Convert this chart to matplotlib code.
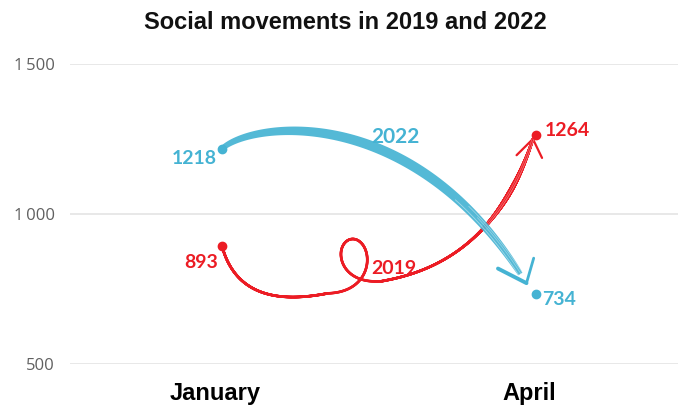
import numpy as np
import matplotlib.pyplot as plt
from matplotlib.collections import LineCollection
from matplotlib.patches import Polygon
import matplotlib.transforms as mtransforms

# ---------------------------------------------------------------
# Du lieu
# ---------------------------------------------------------------
months = ['January', 'April']
x_pos = [0, 1]
values_2019 = [893, 1264]
values_2022 = [1218, 734]
y_ticks = [500, 1000, 1500]
y_tick_labels = ['500', '1\u2009000', '1\u2009500']

BLUE = '#45b3d3'
RED = '#ec1c24'


def bezier(p0, p1, p2, p3, n=400):
    t = np.linspace(0, 1, n)[:, None]
    p0, p1, p2, p3 = map(np.asarray, (p0, p1, p2, p3))
    return (1 - t)**3 * p0 + 3 * (1 - t)**2 * t * p1 + 3 * (1 - t) * t**2 * p2 + t**3 * p3


def resample(pix, n=1500):
    d = np.hypot(*np.diff(pix, axis=0).T)
    s = np.concatenate([[0], np.cumsum(d)])
    ss = np.linspace(0, s[-1], n)
    return ss, np.column_stack([np.interp(ss, s, pix[:, 0]), np.interp(ss, s, pix[:, 1])])


def normals(pix):
    g = np.gradient(pix, axis=0)
    g /= np.hypot(g[:, 0], g[:, 1])[:, None]
    return np.column_stack([-g[:, 1], g[:, 0]])


def wing(tip, back, angle, length):
    a = np.deg2rad(angle)
    r = np.array([[np.cos(a), -np.sin(a)], [np.sin(a), np.cos(a)]])
    return np.vstack([tip + r @ back * length, tip])


# ---------------------------------------------------------------
# Khung hinh
# ---------------------------------------------------------------
plt.rcParams['font.family'] = ['Open Sans', 'DejaVu Sans']
fig = plt.figure(figsize=(6.78, 4.09), dpi=100)
ax = fig.add_axes([70 / 678, 45 / 409, 608 / 678, 300 / 409])
ax.set_xlim(-0.484, 1.452)
ax.set_ylim(500, 1500)
for sp in ax.spines.values():
    sp.set_visible(False)
ax.set_yticks(y_ticks)
ax.set_yticklabels(y_tick_labels, fontsize=12, color='#606060')
ax.set_xticks(x_pos)
ax.set_xticklabels(months, fontsize=17, fontweight='bold', family='Liberation Sans')
ax.tick_params(axis='y', length=0, pad=11)
ax.tick_params(axis='x', length=0, pad=13)
ax.grid(axis='y', color='#e2e2e2', linewidth=1.1)
ax.set_axisbelow(True)
shift = mtransforms.ScaledTranslation(-7 / 100, 0, fig.dpi_scale_trans)
for lbl in ax.get_xticklabels():
    lbl.set_transform(lbl.get_transform() + shift)

fig.text(0.509, 0.946, 'Social movements in 2019 and 2022', ha='center', va='center',
         fontsize=17, fontweight='bold', family='Liberation Sans', color='#111111')

to_pix = ax.transData.transform
to_data = ax.transData.inverted().transform

# ---------------------------------------------------------------
# Duong 2019: net mo, co mot vong xoan o giua
# ---------------------------------------------------------------
j19, a19 = values_2019
seg_a = bezier((0, j19), (0.06, j19 - 233), (0.30, j19 - 173), (0.45, j19 - 128))
seg_b = bezier((0.45, j19 - 128), (0.53, j19 - 108), (0.85, j19 - 103), (0.99, a19 - 14))
ss, red = resample(to_pix(np.vstack([seg_a, seg_b[1:]])), 2500)
# vong xoan kieu chu viet tay (trochoid), cua so lam min hai dau
s0 = ss[np.argmax(red[:, 0] >= to_pix((0.335, 0))[0])]
u = np.clip((ss - s0) / 55.0, 0, 1)
env = np.sin(np.pi * u)**0.35
red[:, 0] += 25 * np.sin(2 * np.pi * u)
red[:, 1] += 24 * (1 - np.cos(2 * np.pi * u)) * env

t = np.linspace(0, 1, len(red))
w_red = 1.9 + 1.7 * np.exp(-((t - 0.86) / 0.09)**2)
red_d = to_data(red)
segs = np.stack([red_d[:-1], red_d[1:]], axis=1)
ax.add_collection(LineCollection(segs, colors=RED, linewidths=w_red[:-1],
                                 capstyle='round', joinstyle='round', zorder=3))
nr = normals(red)
for off, a in [(-0.9, 0.45), (0.8, 0.35)]:
    m = t > 0.75
    p = to_data(red[m] + nr[m] * off)
    ax.plot(p[:, 0], p[:, 1], color='white', lw=0.5, alpha=a, zorder=3.1)

tip = red[-1]
back = red[-40] - red[-1]
back /= np.hypot(*back)
for ang, ln in [(-27, 23), (44, 21)]:
    p = to_data(wing(tip, back, ang, ln))
    ax.plot(p[:, 0], p[:, 1], color=RED, lw=1.6, solid_capstyle='round', zorder=3)

# ---------------------------------------------------------------
# Duong 2022: net co day
# ---------------------------------------------------------------
j22, a22 = values_2022
curve = bezier((0, j22), (0.10, j22 + 92), (0.60, j22 + 152), (0.95, a22 + 66))
_, blue = resample(to_pix(curve), 1200)
tb = np.linspace(0, 1, len(blue))
w_blue = 5.0 + 5.0 * np.sin(np.pi * tb)**0.7
nb = normals(blue)
left = blue + nb * w_blue[:, None] / 2
right = blue - nb * w_blue[:, None] / 2
ax.add_patch(Polygon(to_data(np.vstack([left, right[::-1]])), closed=True,
                     facecolor=BLUE, edgecolor='none', alpha=0.92, zorder=4))
for off, a, start in [(-2.0, 0.45, 0.72), (0.6, 0.35, 0.8), (2.4, 0.4, 0.76)]:
    m = tb > start
    p = to_data(blue[m] + nb[m] * off)
    ax.plot(p[:, 0], p[:, 1], color='white', lw=0.6, alpha=a, zorder=4.1)

back = blue[-60] - blue[-1]
back /= np.hypot(*back)
tip = blue[-1] - back * 11
for ang, ln, lw in [(29, 32, 2.8), (-50, 26, 2.0)]:
    p = to_data(wing(tip, back, ang, ln))
    ax.plot(p[:, 0], p[:, 1], color=BLUE, lw=lw, solid_capstyle='round', zorder=4)

# ---------------------------------------------------------------
# Diem va nhan
# ---------------------------------------------------------------
ax.plot(x_pos, values_2019, 'o', color=RED, ms=6, zorder=5)
ax.plot(x_pos, values_2022, 'o', color=BLUE, ms=6, zorder=5)

lab = dict(fontsize=14, fontweight='bold', family='Lato', va='center')
ax.annotate(f'{values_2022[0]}', (x_pos[0], values_2022[0]), xytext=(-3.6, -6.8),
            textcoords='offset points', ha='right', color=BLUE, **lab)
ax.annotate(f'{values_2022[1]}', (x_pos[1], values_2022[1]), xytext=(4.3, -4.3),
            textcoords='offset points', ha='left', color=BLUE, **lab)
ax.annotate(f'{values_2019[0]}', (x_pos[0], values_2019[0]), xytext=(-3.0, -12),
            textcoords='offset points', ha='right', color=RED, **lab)
ax.annotate(f'{values_2019[1]}', (x_pos[1], values_2019[1]), xytext=(6.5, 3),
            textcoords='offset points', ha='left', color=RED, **lab)
ax.text(0.551, 1257, '2022', ha='center', color=BLUE, fontsize=15, fontweight='bold',
        family='Lato', va='center')
ax.text(0.548, 817, '2019', ha='center', color=RED, **lab)

fig.savefig('out.png', dpi=100)
